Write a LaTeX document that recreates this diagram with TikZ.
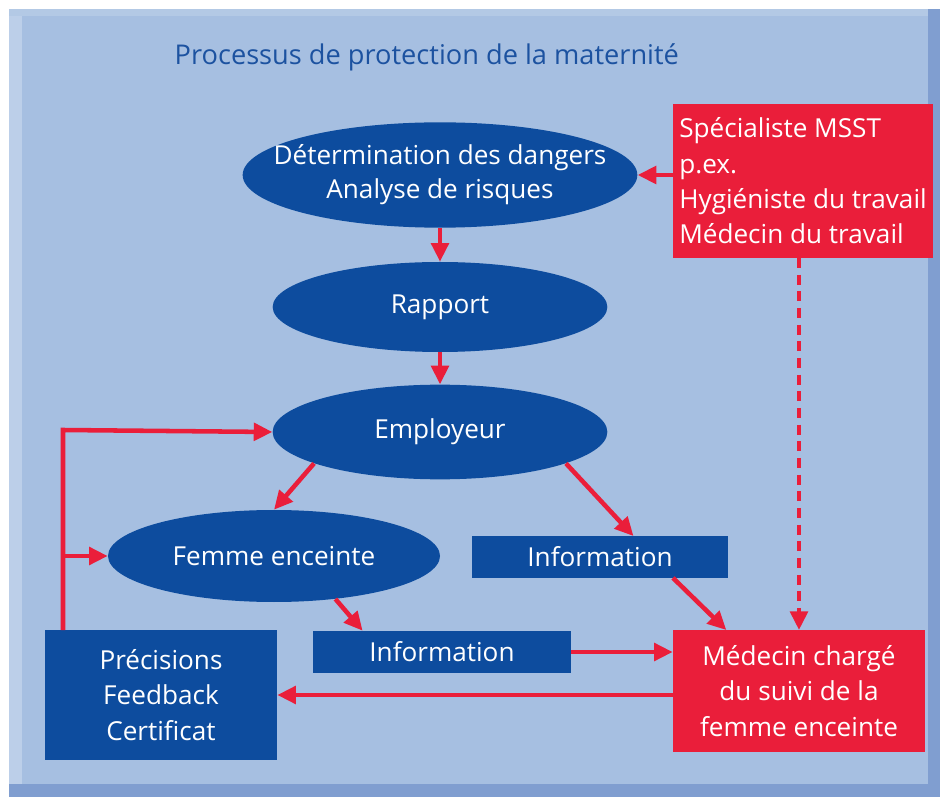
\documentclass[tikz,border=0pt]{standalone}
\usepackage{fontspec}
\setmainfont{Open Sans}
\usetikzlibrary{shapes.geometric,arrows.meta}
\definecolor{panelblue}{RGB}{166,191,225}
\definecolor{edgeblue}{RGB}{128,158,208}
\definecolor{ovalblue}{RGB}{13,76,158}
\definecolor{alertred}{RGB}{234,30,58}
\definecolor{titleblue}{RGB}{28,82,160}
\begin{document}
\begin{tikzpicture}[x=0.75pt,y=0.75pt,yscale=-1,xscale=1,
  font=\fontsize{19.6}{26.5}\selectfont,
  oval/.style={ellipse,fill=ovalblue,text=white,inner sep=0pt},
  bluebox/.style={rectangle,fill=ovalblue,text=white,inner sep=0pt,align=center},
  redbox/.style={rectangle,fill=alertred,text=white,inner sep=0pt},
  link/.style={draw=alertred,line width=3.4pt,-{Triangle[length=14pt,width=13pt]}}]
\useasboundingbox (0,0) rectangle (943,798);
\fill[white] (0,0) rectangle (943,798);
\fill[edgeblue] (9,9) rectangle (940,797);
\fill[panelblue] (9,9) rectangle (928,784);
\fill[panelblue!75!white] (9,9) rectangle (22,784);
\fill[panelblue!85!white] (9,9) rectangle (928,16);
\node[anchor=west,text=titleblue,font=\fontsize{20.4}{26.5}\selectfont] (titre) at (170,57) {Processus de protection de la maternité};
\node[oval,minimum width=296pt,minimum height=79pt,label={[text=white,align=center,font=\fontsize{19.6}{25.5}\selectfont]center:Détermination des dangers\\Analyse de risques}] (danger) at (440,175) {};
\node[oval,minimum width=251pt,minimum height=67.5pt] (rapport) at (440,307) {Rapport};
\node[oval,minimum width=251pt,minimum height=71pt] (employeur) at (440,432) {Employeur};
\node[oval,minimum width=249pt,minimum height=69pt] (femme) at (274,556) {Femme enceinte};
\node[bluebox,minimum width=192pt,minimum height=31pt] (infoA) at (600,557) {Information};
\node[bluebox,minimum width=193.5pt,minimum height=31.5pt] (infoB) at (442,652) {Information};
\node[bluebox,minimum width=174pt,minimum height=97pt] (retour) at (161,695) {Précisions\\Feedback\\Certificat};
\node[redbox,align=center,minimum width=189pt,minimum height=91pt] (medecin) at (799,691) {Médecin chargé\\du suivi de la\\femme enceinte};
\node[redbox,align=left,minimum width=195pt,minimum height=115pt] (specialiste) at (803,181) {Spécialiste MSST\\p.ex.\\Hygiéniste du travail\\Médecin du travail};
\coordinate (boucle) at (63,430);
\draw[link] (specialiste.west |- danger.east) -- (danger.east);
\draw[link] (danger.south) -- (rapport.north);
\draw[link] (rapport.south) -- (employeur.north);
\draw[link] (employeur.194) -- (femme.north);
\draw[link] (employeur.346) -- (infoA.32);
\draw[link] (femme.325) -- (infoB.165);
\draw[link] (infoA.344) -- (medecin.140);
\draw[link] (infoB.east) -- (infoB.east -| medecin.west);
\draw[link,dash pattern=on 7.5pt off 5pt] (medecin.north |- specialiste.south) -- (medecin.north);
\draw[link] (medecin.west |- retour.east) -- (retour.east);
\draw[link] (retour.north -| boucle) -- (boucle) -- (employeur.west);
\draw[link] (femme.west -| boucle) -- (femme.west);
\end{tikzpicture}
\end{document}
